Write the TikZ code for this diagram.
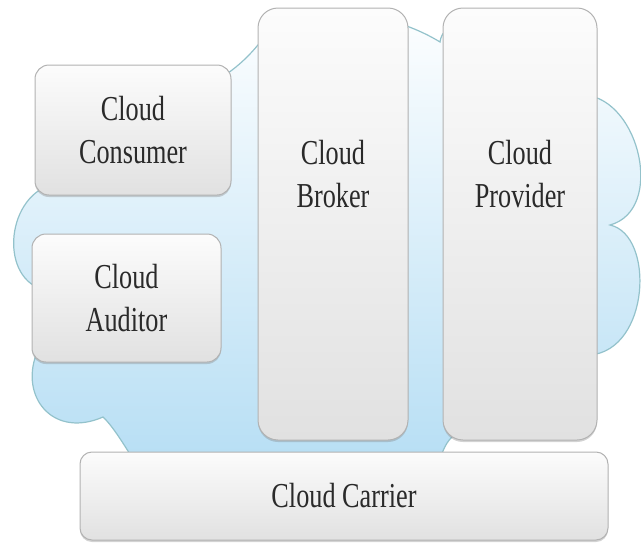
\documentclass[tikz,border=0pt]{standalone}
\usepackage{fontspec}
\setmainfont{Liberation Serif}[FakeStretch=0.75]
\usepackage{tikz}
\usetikzlibrary{shadows}
\definecolor{cloudblue}{HTML}{B6DEF4}
\definecolor{cloudedge}{HTML}{93C2CB}
\definecolor{boxedge}{HTML}{B2B2B2}
\definecolor{boxtop}{HTML}{FCFCFC}
\definecolor{boxbottom}{HTML}{E1E1E1}
\definecolor{roletext}{HTML}{2A2A2A}
\tikzstyle{rolebox} = [draw=boxedge, line width=1pt, rectangle, rounded corners=14pt, top color=boxtop, bottom color=boxbottom, drop shadow={shadow xshift=0pt, shadow yshift=-2pt, opacity=0.35, fill=gray}, align=center, text=roletext, font=\fontsize{35}{43}\selectfont, inner sep=0pt]
\tikzstyle{tallbox} = [rolebox, rounded corners=20pt, minimum width=152pt, minimum height=432pt]
\tikzstyle{rolelabel} = [align=center, text=roletext, font=\fontsize{35}{43}\selectfont, inner sep=0pt]

\begin{document}
\begin{tikzpicture}[x=1pt, y=-1pt]
    \useasboundingbox (0,0) rectangle (641,544);

    % the cloud behind the roles
    \path[draw=cloudedge, line width=1.2pt, top color=white, bottom color=cloudblue]
        (200,90) .. controls (235,72) and (250,55) .. (262,40)
        .. controls (280,0) and (380,5) .. (440,42)
        .. controls (445,0) and (575,5) .. (585,95)
        .. controls (640,100) and (665,210) .. (610,225)
        .. controls (655,235) and (650,350) .. (590,355)
        .. controls (580,425) and (520,432) .. (470,430)
        .. controls (452,430) and (442,445) .. (438,470)
        -- (140,470)
        .. controls (130,455) and (115,428) .. (103,417)
        .. controls (55,438) and (22,400) .. (35,358)
        -- (45,290)
        .. controls (0,280) and (5,200) .. (50,185)
        -- cycle;

    % left column
    \node (consumer) [rolebox, minimum width=196pt, minimum height=130pt] at (133,130) {Cloud\\Consumer};
    \node (auditor) [rolebox, minimum width=189pt, minimum height=128pt] at (126.5,298) {Cloud\\Auditor};

    % tall roles
    \node (broker) [tallbox, minimum width=150pt] at (333,224) {};
    \node (brokertext) [rolelabel] at (333,174.5) {Cloud\\Broker};
    \node (provider) [tallbox, minimum width=154pt] at (520,224) {};
    \node (providertext) [rolelabel] at (520,174.5) {Cloud\\Provider};

    % carrier along the bottom
    \node (carrier) [rolebox, rounded corners=12pt, minimum width=528pt, minimum height=88pt] at (344,496) {Cloud Carrier};
\end{tikzpicture}
\end{document}
